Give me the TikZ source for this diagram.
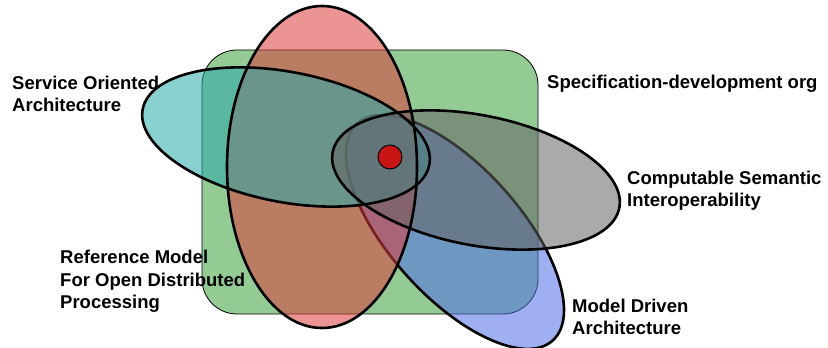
\documentclass[tikz,border=0pt]{standalone}
\usepackage{fontspec}
\setmainfont{Liberation Sans}
\begin{document}
\begin{tikzpicture}[x=1pt,y=1pt,
  shapeline/.style={line width=2.6pt,draw=black},
  shapefill/.style={fill opacity=0.55},
  lbl/.style={font=\bfseries\fontsize{18.5}{22.8}\selectfont,align=left,inner sep=0pt,anchor=base west}]
\definecolor{cgreen}{RGB}{60,160,60}
\definecolor{cred}{RGB}{220,60,60}
\definecolor{ccyan}{RGB}{40,170,170}
\definecolor{cgrey}{RGB}{100,100,100}
\definecolor{cblue}{RGB}{80,110,230}
\definecolor{cdot}{RGB}{200,20,20}
\useasboundingbox (0,0) rectangle (828,348);
% green rounded rectangle
\fill[cgreen,shapefill,rounded corners=35pt] (202,34) rectangle (538,298);
\draw[black,line width=0.8pt,rounded corners=35pt] (202,34) rectangle (538,298);
% blue ellipse (Model Driven Architecture)
\fill[cblue,shapefill] (455,116) ellipse[x radius=146,y radius=65,rotate=-48];
\draw[shapeline] (455,116) ellipse[x radius=146,y radius=65,rotate=-48];
% red ellipse (RM-ODP)
\fill[cred,shapefill] (322,181) ellipse[x radius=95,y radius=161];
% cyan ellipse (SOA)
\fill[ccyan,shapefill] (286,211) ellipse[x radius=146,y radius=65,rotate=-11];
% grey ellipse (CSI)
\fill[cgrey,shapefill] (476,168) ellipse[x radius=146,y radius=65,rotate=-11];
% outlines
\draw[shapeline] (322,181) ellipse[x radius=95,y radius=161];
\draw[shapeline] (286,211) ellipse[x radius=146,y radius=65,rotate=-11];
\draw[shapeline] (476,168) ellipse[x radius=146,y radius=65,rotate=-11];
% centre dot
\filldraw[fill=cdot,draw=black,line width=1pt] (390,191) circle[radius=12];
% labels (anchor = baseline of last line)
\node[lbl] (soa) at (12,236) {Service Oriented\\Architecture};
\node[lbl] (sdo) at (547,259) {Specification-development org};
\node[lbl] (csi) at (627,141) {Computable Semantic\\Interoperability};
\node[lbl] (rmodp) at (60,39) {Reference Model\\For Open Distributed\\Processing};
\node[lbl] (mda) at (572,13) {Model Driven\\Architecture};
\end{tikzpicture}
\end{document}
